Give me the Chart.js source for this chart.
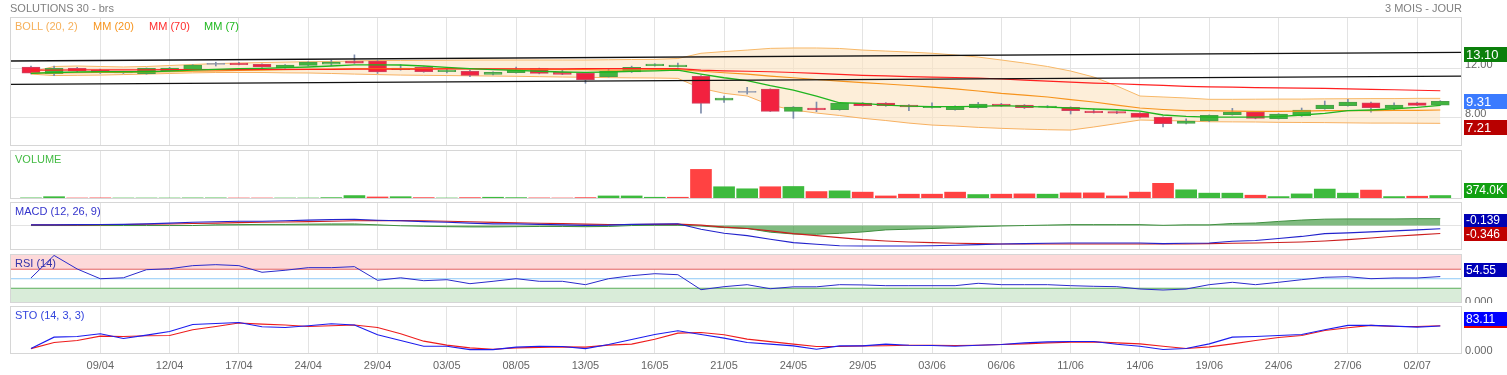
<!DOCTYPE html>
<html><head><meta charset="utf-8">
<script src="https://cdn.jsdelivr.net/npm/chart.js@4.4.1/dist/chart.umd.min.js"></script>
<style>
html,body{margin:0;padding:0;background:#fff;width:1507px;height:375px;overflow:hidden;font-family:"Liberation Sans",Arial,sans-serif;}
canvas{position:absolute;left:0;}
.t{position:absolute;font-size:11px;white-space:nowrap;line-height:12px;z-index:5;}
</style></head><body>
<canvas id="cMain" width="1507" height="147" style="top:0"></canvas>
<canvas id="cVol" width="1507" height="49" style="top:150px"></canvas>
<canvas id="cMacd" width="1507" height="48" style="top:202px"></canvas>
<canvas id="cRsi" width="1507" height="49" style="top:254px"></canvas>
<canvas id="cSto" width="1507" height="69" style="top:306px"></canvas>
<div class="t" style="left:10px;top:2px;color:#7f7f7f">SOLUTIONS 30 - brs</div>
<div class="t" style="right:45px;top:2px;color:#7f7f7f">3 MOIS - JOUR</div>
<div class="t" style="left:15px;top:20px;color:#f6b05a">BOLL (20, 2)</div>
<div class="t" style="left:93px;top:20px;color:#f7941d">MM (20)</div>
<div class="t" style="left:149px;top:20px;color:#ff2d2d">MM (70)</div>
<div class="t" style="left:204px;top:20px;color:#1fb81f">MM (7)</div>
<div class="t" style="left:15px;top:153px;color:#44bb44">VOLUME</div>
<div class="t" style="left:15px;top:205px;color:#3333cc">MACD (12, 26, 9)</div>
<div class="t" style="left:15px;top:257px;color:#3333aa">RSI (14)</div>
<div class="t" style="left:15px;top:309px;color:#3344dd">STO (14, 3, 3)</div>
<script>
// ---------- DATA ----------
const dates = ['04/04','05/04','08/04','09/04','10/04','11/04','12/04','15/04','16/04','17/04','18/04','23/04','24/04','25/04','26/04','29/04','30/04','02/05','03/05','06/05','07/05','08/05','09/05','10/05','13/05','14/05','15/05','16/05','17/05','20/05','21/05','22/05','23/05','24/05','27/05','28/05','29/05','30/05','31/05','03/06','04/06','05/06','06/06','07/06','10/06','11/06','12/06','13/06','14/06','17/06','18/06','19/06','20/06','21/06','24/06','25/06','26/06','27/06','28/06','01/07','02/07','03/07'];
const tickIdx = [3,6,9,12,15,18,21,24,27,30,33,36,39,42,45,48,51,54,57,60];

const opens  = [12.10,11.56,12.00,11.84,11.62,11.56,11.80,11.92,12.32,12.43,12.33,12.05,12.24,12.33,12.60,12.60,11.89,12.08,11.72,11.76,11.51,11.64,11.97,11.67,11.59,11.31,11.70,12.21,12.13,11.34,9.41,10.04,10.31,8.49,8.76,8.62,9.17,9.17,9.00,8.78,8.62,8.78,9.09,9.00,8.82,8.82,8.51,8.46,8.35,8.00,7.51,7.70,8.21,8.43,7.89,8.11,8.70,8.95,9.19,8.73,9.19,9.00];
const highs  = [12.18,12.18,12.08,11.94,11.76,12.03,12.08,12.30,12.50,12.48,12.37,12.30,12.54,12.66,13.10,12.64,12.30,12.12,11.94,11.86,11.72,12.10,12.02,11.86,11.62,11.94,12.18,12.38,12.43,11.40,9.74,10.45,10.33,8.88,9.25,9.20,9.20,9.20,9.04,9.19,8.94,9.22,9.14,9.04,8.96,8.86,8.66,8.52,8.38,8.04,7.88,8.20,8.73,8.47,8.30,8.76,9.33,9.47,9.25,9.19,9.24,9.36];
const lows   = [11.55,11.40,11.72,11.58,11.58,11.52,11.76,11.90,12.19,12.27,12.08,12.02,12.20,12.21,12.40,11.58,11.85,11.68,11.62,11.31,11.47,11.60,11.55,11.48,10.78,11.28,11.66,12.18,12.10,8.33,9.22,9.90,8.47,7.92,8.46,8.58,8.92,8.90,8.54,8.74,8.58,8.74,8.88,8.72,8.78,8.27,8.35,8.30,7.96,7.21,7.46,7.66,8.18,7.88,7.86,8.08,8.66,8.92,8.43,8.60,8.95,8.96];
const closes = [11.60,12.00,11.78,11.64,11.72,12.00,12.02,12.27,12.32,12.29,12.11,12.27,12.51,12.51,12.43,11.70,12.02,11.72,11.86,11.43,11.67,11.86,11.59,11.51,11.07,11.78,12.08,12.35,12.27,9.14,9.58,10.04,8.49,8.84,8.62,9.17,8.95,8.95,8.84,8.90,8.90,9.09,8.92,8.78,8.92,8.54,8.38,8.33,8.00,7.48,7.70,8.16,8.43,7.92,8.27,8.60,9.00,9.25,8.78,9.00,8.98,9.31];

const mm7  = [11.59,11.66,11.70,11.72,11.72,11.72,11.78,11.86,11.92,11.97,12.00,12.05,12.11,12.19,12.29,12.29,12.27,12.19,12.08,11.97,11.89,11.84,11.76,11.70,11.67,11.70,11.76,11.80,11.86,11.53,11.23,10.99,10.58,10.23,9.74,9.19,9.14,9.00,8.92,8.87,8.87,8.90,8.95,8.90,8.84,8.76,8.68,8.62,8.51,8.19,8.08,8.02,8.02,8.02,8.05,8.19,8.33,8.54,8.60,8.70,8.81,8.98];
const mm20 = [11.62,11.62,11.64,11.66,11.67,11.70,11.72,11.76,11.80,11.84,11.86,11.89,11.92,11.94,11.97,11.97,11.98,11.98,11.98,11.97,11.94,11.94,11.92,11.90,11.89,11.86,11.86,11.89,11.89,11.76,11.64,11.53,11.37,11.23,11.09,10.96,10.84,10.72,10.60,10.47,10.33,10.15,9.96,9.82,9.66,9.45,9.25,9.00,8.76,8.64,8.55,8.54,8.51,8.49,8.49,8.51,8.54,8.55,8.55,8.57,8.57,8.60];
const mm70 = [11.86,11.86,11.87,11.87,11.88,11.88,11.89,11.89,11.90,11.90,11.91,11.91,11.92,11.92,11.93,11.93,11.94,11.94,11.95,11.95,11.95,11.96,11.96,11.96,11.97,11.97,11.97,11.97,11.97,11.86,11.80,11.76,11.72,11.66,11.59,11.51,11.43,11.39,11.33,11.29,11.25,11.21,11.13,11.04,10.96,10.88,10.80,10.74,10.67,10.61,10.53,10.49,10.46,10.43,10.41,10.39,10.37,10.33,10.29,10.25,10.21,10.17];
const bbUpper = [11.70,12.15,12.19,12.15,12.11,12.15,12.23,12.31,12.39,12.43,12.47,12.51,12.54,12.56,12.60,12.64,12.64,12.65,12.66,12.68,12.68,12.68,12.68,12.68,12.68,12.70,12.72,12.73,12.80,13.23,13.37,13.49,13.63,13.66,13.66,13.62,13.49,13.41,13.33,13.23,13.09,12.92,12.68,12.43,12.15,11.78,11.29,10.56,9.74,9.66,9.58,9.47,9.47,9.48,9.49,9.49,9.51,9.52,9.53,9.53,9.55,9.55];
const bbLower = [11.53,11.41,11.43,11.45,11.49,11.53,11.58,11.63,11.66,11.66,11.66,11.63,11.62,11.58,11.53,11.49,11.45,11.43,11.41,11.39,11.37,11.35,11.32,11.29,11.27,11.24,11.22,11.21,11.18,10.37,9.96,9.74,9.00,8.60,8.35,8.15,7.92,7.74,7.53,7.37,7.29,7.18,7.10,7.04,6.99,6.96,7.21,7.49,7.78,7.74,7.70,7.64,7.63,7.62,7.59,7.58,7.57,7.55,7.53,7.53,7.52,7.51];
const trendUpper = [12.60, 13.31];   // at left / right edge of the panel
const trendLower = [10.69, 11.37];
const mainTicks = [8, 12];

const volumes = [120,250,90,120,90,90,90,120,120,90,90,90,90,150,370,220,250,150,90,150,190,150,120,90,150,330,330,190,190,3190,1320,1100,1320,1350,800,880,740,330,520,520,740,480,520,550,520,660,660,330,740,1690,990,630,630,410,260,550,1070,630,960,260,300,374];
const volUp = [1,1,0,0,1,1,1,1,1,0,0,1,1,1,1,0,1,0,1,0,1,1,0,0,0,1,1,1,0,0,1,1,0,1,0,1,0,0,0,0,0,1,0,0,1,0,0,0,0,0,1,1,1,0,1,1,1,1,0,1,0,1];

const macdLine = [0.031,0.031,0.040,0.048,0.053,0.075,0.106,0.141,0.163,0.185,0.185,0.207,0.238,0.260,0.273,0.229,0.207,0.172,0.141,0.106,0.075,0.075,0.053,0.031,0.009,0.018,0.053,0.062,0.075,-0.159,-0.335,-0.441,-0.599,-0.749,-0.819,-0.881,-0.894,-0.894,-0.894,-0.881,-0.863,-0.837,-0.806,-0.793,-0.775,-0.762,-0.762,-0.762,-0.762,-0.793,-0.775,-0.762,-0.687,-0.652,-0.564,-0.476,-0.352,-0.322,-0.278,-0.233,-0.189,-0.139];
const macdSignal = [0.031,0.031,0.031,0.040,0.048,0.057,0.070,0.088,0.106,0.128,0.141,0.154,0.172,0.189,0.207,0.216,0.216,0.207,0.189,0.163,0.137,0.119,0.101,0.084,0.062,0.048,0.048,0.053,0.062,0.018,-0.070,-0.132,-0.233,-0.352,-0.441,-0.529,-0.617,-0.674,-0.718,-0.749,-0.775,-0.793,-0.806,-0.806,-0.806,-0.806,-0.806,-0.806,-0.806,-0.806,-0.806,-0.793,-0.775,-0.762,-0.740,-0.718,-0.674,-0.617,-0.542,-0.467,-0.410,-0.346];
const macdHist = [0,0,0,0,0,0,0,0,0.03,0.04,0.05,0.05,0.06,0.07,0.07,0.03,-0.01,-0.03,-0.05,-0.06,-0.06,-0.05,-0.04,-0.04,-0.05,-0.04,0,0.01,0.01,-0.02,-0.09,-0.13,-0.29,-0.37,-0.38,-0.34,-0.28,-0.19,-0.16,-0.13,-0.09,-0.05,-0.02,0,0.02,0.04,0.04,0.04,0.04,0.01,0.03,0.03,0.09,0.11,0.18,0.24,0.28,0.29,0.29,0.29,0.30,0.30];

const rsi = [51.6,99,70.5,50,52,69,71,77.5,79.6,77.5,63.6,67.8,73.3,73.3,75.4,46.7,52,45.9,48,39.6,44.6,50.1,44.6,44.6,37.5,50.1,56.4,60.6,58.5,27,33.3,37.5,29,33,33,37.5,37,35.4,35.4,35.4,35.4,40.4,37.5,37.5,37.5,35.4,34.1,33.3,28.4,26.3,28.4,37.5,42.5,37.5,42.5,48,53,54.3,50.1,51.6,51.6,54.55];
const rsiLevels = [70, 50, 30];

const stoK = [12,48,50,58.5,43.7,54.4,65.8,88,91,94.3,80.7,78.5,83.9,90.2,86,55.4,37.3,19.6,19.6,8.9,8.9,16.5,19.6,18.4,12,24.7,40.5,56.3,68,56.3,45,31,26,20.6,10,20.6,20.6,26,22.7,21.6,19.5,22.7,24.8,30,33.2,34.3,34.3,25.8,19.5,9,12.1,26.9,48,50.1,53.3,56.4,71.2,84.9,84.9,82.8,79.7,83.11];
const stoD = [12,31,37.3,51.3,50,52.2,53,71.2,81.6,92.3,89,86,81.6,83.9,86,78.5,58.5,35.4,22.8,14.2,10,14.2,15.8,17.4,16.5,22.8,26,41.6,60.7,62.8,55.4,41.8,34,26,18.4,18.4,20.6,21,22.7,22.7,21.6,22.7,24.8,26.9,30,32.2,33.2,30,26.9,19.5,12.1,17.4,26.9,37.4,46.9,53.3,69.1,77.5,84.9,81.7,81.7,83.9];

// ---------- RENDER ----------
Chart.defaults.font.family = '"Liberation Sans", Arial, sans-serif';
Chart.defaults.animation = false;
Chart.defaults.responsive = false;
Chart.defaults.devicePixelRatio = 1;
Chart.defaults.events = [];
Chart.defaults.plugins.legend.display = false;
Chart.defaults.plugins.tooltip.enabled = false;

const X_MIN = -0.908, X_MAX = 61.94;
const pts = arr => arr.map((v, i) => ({x: i, y: v}));
const edge = arr => [{x: X_MIN, y: arr[0]}, {x: X_MAX, y: arr[1]}];
const GRID = '#e3e3e3';

function xScale(showLabels) {
  return {
    type: 'linear', min: X_MIN, max: X_MAX, offset: false,
    afterBuildTicks: s => { s.ticks = tickIdx.map(v => ({value: v})); },
    afterFit: s => { s.height = showLabels ? 21 : 0; },
    grid: {color: GRID, lineWidth: 1, drawTicks: false, offset: false},
    border: {display: false},
    ticks: {display: showLabels, padding: 5, color: '#666', font: {size: 11}, maxRotation: 0, autoSkip: false,
            callback: v => dates[v] || ''}
  };
}
function yScale(min, max, ticks, showGrid) {
  return {
    position: 'right', min, max,
    afterBuildTicks: s => { s.ticks = ticks.map(v => ({value: v})); },
    afterFit: s => { s.width = 45; },
    grid: {display: showGrid, color: GRID, drawTicks: false},
    border: {display: false},
    ticks: {display: false}
  };
}

const panelPlugin = {
  id: 'panel',
  afterDraw(chart, args, o) {
    const {ctx, chartArea: a} = chart;
    const y = chart.scales.y;
    ctx.save();
    if (o.tickFmt) {
      ctx.save();
      ctx.beginPath(); ctx.rect(a.right, a.top, chart.width - a.right, a.bottom - a.top); ctx.clip();
      ctx.fillStyle = '#666'; ctx.font = '11px "Liberation Sans", Arial, sans-serif';
      ctx.textBaseline = 'middle'; ctx.textAlign = 'left';
      y.ticks.forEach(t => ctx.fillText(o.tickFmt(t.value), a.right + 3, y.getPixelForValue(t.value) + (o.tickDy || 0)));
      ctx.restore();
    }
    ctx.strokeStyle = '#d6d6d6'; ctx.lineWidth = 1;
    ctx.strokeRect(Math.round(a.left) + 0.5, Math.round(a.top) + 0.5, Math.round(a.right - a.left) - 1, Math.round(a.bottom - a.top) - 1);
    (o.boxes || []).forEach(b => {
      const h = b.h || 14;
      let cy = y.getPixelForValue(b.value) + (b.dy || 0);
      cy = Math.max(a.top + h / 2 + 1, Math.min(a.bottom - h / 2 - 1.5, cy));
      ctx.fillStyle = b.bg;
      ctx.fillRect(a.right + 2, Math.round(cy - h / 2), chart.width - a.right - 2, h);
      ctx.fillStyle = '#fff';
      ctx.font = (b.size || 12) + 'px "Liberation Sans", Arial, sans-serif';
      ctx.textBaseline = 'middle'; ctx.textAlign = 'left';
      ctx.fillText(b.text, a.right + 4, Math.round(cy - h / 2) + h / 2 + 0.5);
    });
    ctx.restore();
  }
};
Chart.register(panelPlugin);

const lineDs = (data, color, width, order, extra) => Object.assign({
  type: 'line', data, borderColor: color, borderWidth: width, pointRadius: 0, tension: 0, fill: false, order
}, extra || {});

// Main price panel
const isDoji = i => opens[i] === closes[i];
const candleColor = i => isDoji(i) ? '#8a96b0' : (closes[i] >= opens[i] ? '#41b53f' : '#f2213f');
const candleBorder = i => isDoji(i) ? '#8a96b0' : (closes[i] >= opens[i] ? '#4a9f4a' : '#cf4561');
new Chart(document.getElementById('cMain'), {
  type: 'bar',
  data: {datasets: [
    lineDs(pts(bbUpper), '#f7b868', 1, 20, {fill: '+1', backgroundColor: 'rgba(252,226,192,0.6)'}),
    lineDs(pts(bbLower), '#f7b060', 1, 19),
    {type: 'bar', data: dates.map((d, i) => ({x: i, y: [lows[i], highs[i]]})), backgroundColor: '#7d8cab',
     barThickness: 1, grouped: false, order: 12},
    {type: 'bar', data: dates.map((d, i) => ({x: i, y: [opens[i], closes[i]]})),
     backgroundColor: dates.map((d, i) => candleColor(i)), borderColor: dates.map((d, i) => candleBorder(i)),
     borderWidth: 1, borderSkipped: false, barThickness: 18, minBarLength: 1, grouped: false, order: 11},
    lineDs(pts(mm20), '#f7941d', 1.2, 5),
    lineDs(pts(mm70), '#ff2020', 1.2, 4),
    lineDs(pts(mm7), '#1fb51f', 1.3, 3),
    lineDs(edge(trendUpper), '#111', 1.3, 2),
    lineDs(edge(trendLower), '#111', 1.3, 2)
  ]},
  options: {
    layout: {padding: {left: 10, right: 0, top: 17, bottom: 1}},
    scales: {x: xScale(false), y: yScale(5.66, 16.19, mainTicks, true)},
    plugins: {panel: {
      tickFmt: v => v.toFixed(2), tickDy: -3,
      boxes: [
        {value: 13.10, text: '13.10', bg: '#0b7f0b', size: 13, h: 15},
        {value: 9.31, text: '9.31', bg: '#3b7bff', size: 13, h: 15},
        {value: 7.21, text: '7.21', bg: '#b80000', size: 13, h: 15}
      ]}}
  }
});

// Volume panel
new Chart(document.getElementById('cVol'), {
  type: 'bar',
  data: {datasets: [
    {data: pts(volumes), backgroundColor: volUp.map(u => u ? '#3dba3d' : '#ff4242'), barThickness: 21, minBarLength: 1, grouped: false}
  ]},
  options: {
    layout: {padding: {left: 10, right: 0, top: 0, bottom: 0}},
    scales: {x: xScale(false), y: yScale(0, 5280, [0], false)},
    plugins: {panel: {boxes: [{value: 374, text: '374.0K', bg: '#12a012', size: 12, h: 15}]}}
  }
});

// MACD panel
new Chart(document.getElementById('cMacd'), {
  type: 'line',
  data: {datasets: [
    lineDs(pts(macdHist), '#3f8f3f', 1, 10, {fill: 'origin', backgroundColor: 'rgba(50,145,50,0.62)'}),
    lineDs(pts(macdSignal), '#cc1f1f', 1.1, 3),
    lineDs(pts(macdLine), '#2323cc', 1.1, 2)
  ]},
  options: {
    layout: {padding: {left: 10, right: 0, top: 0, bottom: 0}},
    scales: {x: xScale(false), y: yScale(-1.07, 1.03, [0], true)},
    plugins: {panel: {boxes: [
      {value: -0.139, text: '-0.139', bg: '#0000b3', size: 12, h: 13, dy: -8},
      {value: -0.346, text: '-0.346', bg: '#c00000', size: 12, h: 14, dy: 1}
    ]}}
  }
});

// RSI panel
new Chart(document.getElementById('cRsi'), {
  type: 'line',
  data: {datasets: [
    lineDs(edge([rsiLevels[0], rsiLevels[0]]), '#e26464', 1, 10, {fill: {value: 110}, backgroundColor: '#fdd9d9'}),
    lineDs(edge([rsiLevels[1], rsiLevels[1]]), '#8fcaf7', 1, 9),
    lineDs(edge([rsiLevels[2], rsiLevels[2]]), '#5aad5a', 1, 8, {fill: {value: -10}, backgroundColor: '#d9ecd9'}),
    lineDs(pts(rsi), '#2a2acc', 1, 1)
  ]},
  options: {
    layout: {padding: {left: 10, right: 0, top: 0, bottom: 0}},
    scales: {x: xScale(false), y: yScale(-1, 102, [0], false)},
    plugins: {panel: {tickFmt: v => v.toFixed(3), tickDy: -1,
      boxes: [{value: 54.55, text: '54.55', bg: '#0000b8', size: 12, h: 14, dy: -7}]}}
  }
});

// Stochastic panel
new Chart(document.getElementById('cSto'), {
  type: 'line',
  data: {datasets: [
    lineDs(pts(stoD), '#ee1c1c', 1.1, 3),
    lineDs(pts(stoK), '#1c1cee', 1.1, 2)
  ]},
  options: {
    layout: {padding: {left: 10, right: 0, top: 0, bottom: 0}},
    scales: {x: xScale(true), y: yScale(-5, 146, [0], false)},
    plugins: {panel: {tickFmt: v => v.toFixed(3), tickDy: -1,
      boxes: [
        {value: 83.9, text: '', bg: '#e00000', size: 12, h: 14, dy: -5},
        {value: 83.11, text: '83.11', bg: '#0000ff', size: 12, h: 14, dy: -6.5}
      ]}}
  }
});
</script>
</body></html>
